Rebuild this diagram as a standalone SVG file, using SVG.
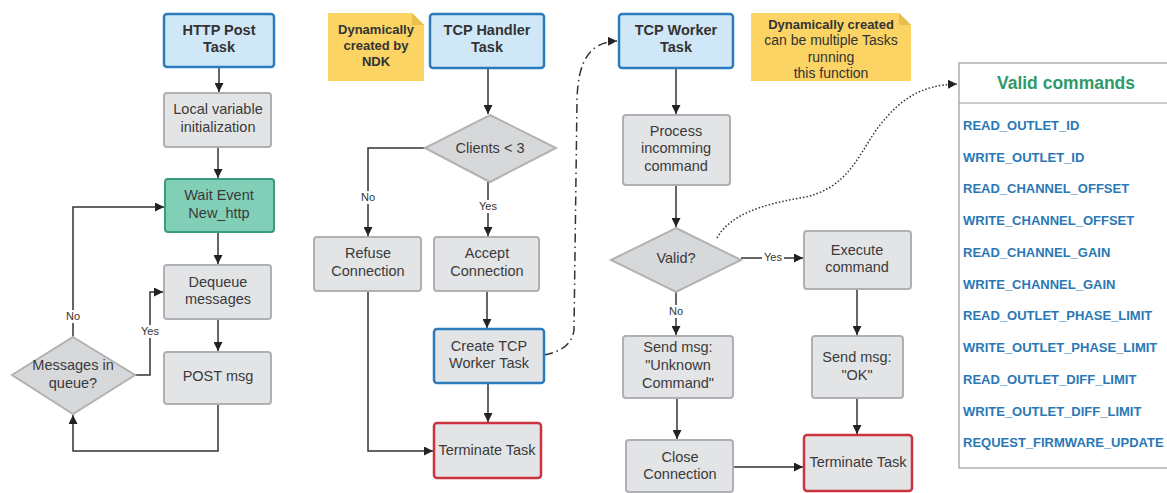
<svg xmlns="http://www.w3.org/2000/svg" width="1167" height="493" viewBox="0 0 1167 493">
<defs>
<style>
.t{font-family:"Liberation Sans",Arial,sans-serif;font-size:14.5px;fill:#3a3a3a;text-anchor:middle}
.b{font-weight:bold;fill:#333;font-size:14.5px}
.n{font-family:"Liberation Sans",Arial,sans-serif;font-size:13px;fill:#333;text-anchor:middle}
.n2{font-family:"Liberation Sans",Arial,sans-serif;font-size:14px;fill:#333;text-anchor:middle}
.lbl{font-family:"Liberation Sans",Arial,sans-serif;font-size:11px;fill:#333;text-anchor:middle}
.gray{fill:#e3e4e6;stroke:#aeb0b3;stroke-width:2}
.task{fill:#cfe7f6;stroke:#2b7bbd;stroke-width:2.5}
.blue{fill:#e3e4e6;stroke:#2b7bbd;stroke-width:2.5}
.teal{fill:#82cfb8;stroke:#3a9c7f;stroke-width:2}
.red{fill:#e3e4e6;stroke:#cc3340;stroke-width:2.5}
.dia{fill:#d7d8da;stroke:#b0b2b4;stroke-width:2}
.note{fill:#fbd464;stroke:none}
.fold{fill:#e8be4c}
.c{fill:none;stroke:#333;stroke-width:1.5}
.cmd{font-family:"Liberation Sans",Arial,sans-serif;font-size:13px;font-weight:bold;fill:#2a78b6}
</style>
<marker id="ah" viewBox="0 0 10 10" refX="10" refY="5" markerWidth="9" markerHeight="9" markerUnits="userSpaceOnUse" orient="auto">
<path d="M0,0 L10,5 L0,10 z" fill="#222"/>
</marker>
</defs>
<rect width="1167" height="493" fill="#fff"/>

<g id="connectors">
<path class="c" d="M219 67 V92" marker-end="url(#ah)"/>
<path class="c" d="M218 147 V178" marker-end="url(#ah)"/>
<path class="c" d="M218 232 V264" marker-end="url(#ah)"/>
<path class="c" d="M218 319 V351" marker-end="url(#ah)"/>
<path class="c" d="M218 404 V451 H73 V415" marker-end="url(#ah)"/>
<path class="c" d="M135 375 H150 V292 H163" marker-end="url(#ah)"/>
<path class="c" d="M73 337 V207 H164" marker-end="url(#ah)"/>
<path class="c" d="M488 68 V114" marker-end="url(#ah)"/>
<path class="c" d="M425 148 H368 V236" marker-end="url(#ah)"/>
<path class="c" d="M488 182 V236" marker-end="url(#ah)"/>
<path class="c" d="M487 291 V328" marker-end="url(#ah)"/>
<path class="c" d="M488 383 V422" marker-end="url(#ah)"/>
<path class="c" d="M368 291 V451 H433" marker-end="url(#ah)"/>
<path class="c" d="M544 355 C560 352 572 345 574 330 L577 100 C578 60 590 42 617 41" stroke-dasharray="9,4,1.5,4" marker-end="url(#ah)"/>
<path class="c" d="M676 68 V114" marker-end="url(#ah)"/>
<path class="c" d="M676 185 V227" marker-end="url(#ah)"/>
<path class="c" d="M741 258 H803" marker-end="url(#ah)"/>
<path class="c" d="M676 292 V335" marker-end="url(#ah)"/>
<path class="c" d="M857 289 V335" marker-end="url(#ah)"/>
<path class="c" d="M677 398 V439" marker-end="url(#ah)"/>
<path class="c" d="M857 398 V434" marker-end="url(#ah)"/>
<path class="c" d="M733 467 H803" marker-end="url(#ah)"/>
<path class="c" d="M717 238 C730 215 760 205 800 198 C850 190 860 150 880 125 C900 100 920 85 957 84" stroke-width="1.2" stroke-dasharray="1.5,2" marker-end="url(#ah)"/>
<rect x="64" y="310" width="18" height="13" fill="#fff"/>
<text class="lbl" x="73" y="320">No</text>
<rect x="139" y="325" width="22" height="13" fill="#fff"/>
<text class="lbl" x="150" y="335">Yes</text>
<rect x="359" y="191" width="18" height="13" fill="#fff"/>
<text class="lbl" x="368" y="201">No</text>
<rect x="477" y="200" width="22" height="13" fill="#fff"/>
<text class="lbl" x="488" y="210">Yes</text>
<rect x="762" y="251" width="22" height="13" fill="#fff"/>
<text class="lbl" x="773" y="261">Yes</text>
<rect x="667" y="305" width="18" height="13" fill="#fff"/>
<text class="lbl" x="676" y="315">No</text>
</g>

<g id="http-post-task"><rect class="task" x="164" y="14" width="110" height="53" rx="3"/><text class="t b" x="219" y="35">HTTP Post</text><text class="t b" x="219" y="52">Task</text></g>
<g id="local-init"><rect class="gray" x="164" y="93" width="107" height="54" rx="3"/><text class="t" x="218" y="114">Local variable</text><text class="t" x="218" y="132">initialization</text></g>
<g id="wait-event"><rect class="teal" x="165" y="179" width="109" height="53" rx="3"/><text class="t" x="219" y="200">Wait Event</text><text class="t" x="219" y="218">New_http</text></g>
<g id="dequeue"><rect class="gray" x="164" y="265" width="107" height="54" rx="3"/><text class="t" x="218" y="287">Dequeue</text><text class="t" x="218" y="304">messages</text></g>
<g id="post-msg"><rect class="gray" x="164" y="352" width="107" height="52" rx="3"/><text class="t" x="218" y="381">POST msg</text></g>
<g id="messages-in-queue"><polygon class="dia" points="73,337 135,375 73,414 12,375"/><text class="t" x="73" y="370">Messages in</text><text class="t" x="73" y="388">queue?</text></g>

<g id="note-ndk"><path class="note" d="M328 13 H412 L424 25 V81 H328 Z"/><path class="fold" d="M412 13 V25 H424 Z"/><text class="n b" style="font-size:13px" x="376" y="34">Dynamically</text><text class="n b" style="font-size:13px" x="376" y="50">created by</text><text class="n b" style="font-size:13px" x="376" y="66">NDK</text></g>
<g id="tcp-handler-task"><rect class="task" x="430" y="14" width="114" height="54" rx="3"/><text class="t b" x="487" y="35">TCP Handler</text><text class="t b" x="487" y="52">Task</text></g>
<g id="clients-lt-3"><polygon class="dia" points="490,115 556,148 490,182 425,148"/><text class="t" x="490" y="153">Clients &lt; 3</text></g>
<g id="refuse-connection"><rect class="gray" x="314" y="237" width="107" height="54" rx="3"/><text class="t" x="368" y="258">Refuse</text><text class="t" x="368" y="276">Connection</text></g>
<g id="accept-connection"><rect class="gray" x="434" y="237" width="105" height="54" rx="3"/><text class="t" x="487" y="258">Accept</text><text class="t" x="487" y="276">Connection</text></g>
<g id="create-worker"><rect class="blue" x="434" y="329" width="110" height="54" rx="3"/><text class="t" x="489" y="351">Create TCP</text><text class="t" x="489" y="368">Worker Task</text></g>
<g id="terminate-handler"><rect class="red" x="434" y="423" width="107" height="55" rx="3"/><text class="t" x="487" y="455">Terminate Task</text></g>

<g id="tcp-worker-task"><rect class="task" x="619" y="14" width="114" height="54" rx="3"/><text class="t b" x="676" y="35">TCP Worker</text><text class="t b" x="676" y="52">Task</text></g>
<g id="note-worker"><path class="note" d="M751 13 H899 L911 25 V81 H751 Z"/><path class="fold" d="M899 13 V25 H911 Z"/><text class="n b" style="font-size:13px" x="831" y="29">Dynamically created</text><text class="n2" x="831" y="45">can be multiple Tasks</text><text class="n2" x="831" y="62">running</text><text class="n2" x="831" y="78">this function</text></g>
<g id="process-command"><rect class="gray" x="623" y="115" width="107" height="70" rx="3"/><text class="t" x="676" y="136">Process</text><text class="t" x="676" y="153">incomming</text><text class="t" x="676" y="171">command</text></g>
<g id="valid"><polygon class="dia" points="676,228 741,260 676,292 611,260"/><text class="t" x="676" y="263">Valid?</text></g>
<g id="execute-command"><rect class="gray" x="804" y="231" width="107" height="58" rx="3"/><text class="t" x="857" y="255">Execute</text><text class="t" x="857" y="272">command</text></g>
<g id="send-unknown"><rect class="gray" x="623" y="336" width="110" height="62" rx="3"/><text class="t" x="678" y="352">Send msg:</text><text class="t" x="678" y="370">"Unknown</text><text class="t" x="678" y="388">Command"</text></g>
<g id="send-ok"><rect class="gray" x="812" y="336" width="91" height="62" rx="3"/><text class="t" x="857" y="362">Send msg:</text><text class="t" x="857" y="380">"OK"</text></g>
<g id="close-connection"><rect class="gray" x="626" y="440" width="107" height="52" rx="3"/><text class="t" x="680" y="462">Close</text><text class="t" x="680" y="479">Connection</text></g>
<g id="terminate-worker"><rect class="red" x="804" y="435" width="108" height="56" rx="3"/><text class="t" x="858" y="467">Terminate Task</text></g>

<g id="valid-commands">
<rect x="959" y="63" width="230" height="405" fill="#fff" stroke="#999" stroke-width="1.2"/>
<line x1="959" y1="103" x2="1167" y2="103" stroke="#999" stroke-width="1.2"/>
<text x="1066" y="89" font-family="'Liberation Sans',Arial,sans-serif" font-size="17.5" font-weight="bold" fill="#2e9a6a" text-anchor="middle">Valid commands</text>
<text class="cmd" x="963" y="130">READ_OUTLET_ID</text>
<text class="cmd" x="963" y="162">WRITE_OUTLET_ID</text>
<text class="cmd" x="963" y="193">READ_CHANNEL_OFFSET</text>
<text class="cmd" x="963" y="225">WRITE_CHANNEL_OFFSET</text>
<text class="cmd" x="963" y="257">READ_CHANNEL_GAIN</text>
<text class="cmd" x="963" y="289">WRITE_CHANNEL_GAIN</text>
<text class="cmd" x="963" y="320">READ_OUTLET_PHASE_LIMIT</text>
<text class="cmd" x="963" y="352">WRITE_OUTLET_PHASE_LIMIT</text>
<text class="cmd" x="963" y="384">READ_OUTLET_DIFF_LIMIT</text>
<text class="cmd" x="963" y="416">WRITE_OUTLET_DIFF_LIMIT</text>
<text class="cmd" x="963" y="447">REQUEST_FIRMWARE_UPDATE</text>
</g>
</svg>
